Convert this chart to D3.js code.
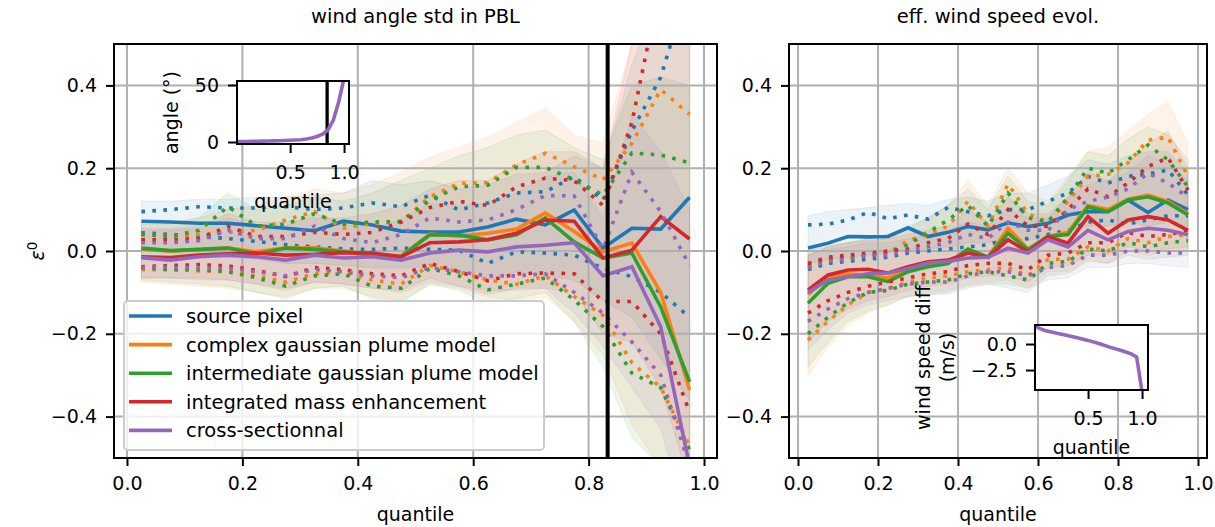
<!DOCTYPE html>
<html>
<head>
<meta charset="utf-8">
<script src="https://cdn.jsdelivr.net/npm/d3@7/dist/d3.min.js"></script>
<style>
  html, body { margin: 0; padding: 0; background: #fff; }
  svg { display: block; font-family: "DejaVu Sans", sans-serif; }
</style>
</head>
<body>
<svg id="fig" width="1215" height="527"></svg>
<script>
// ---- categories and styling keys ----
const methods = ["source pixel", "complex gaussian plume model", "intermediate gaussian plume model",
                 "integrated mass enhancement", "cross-sectionnal"];
const colors = ["#1f77b4", "#ff7f0e", "#2ca02c", "#d62728", "#9467bd"];
const quantileBins = [0.025, 0.075, 0.125, 0.175, 0.225, 0.275, 0.325, 0.375, 0.425, 0.475,
                      0.525, 0.575, 0.625, 0.675, 0.725, 0.775, 0.825, 0.875, 0.925, 0.975];
const xTicks = [0.0, 0.2, 0.4, 0.6, 0.8, 1.0];
const yTicks = [-0.4, -0.2, 0.0, 0.2, 0.4];
const angleThreshold = 0.833;

// ---- wind angle std in PBL: relative error per quantile bin (rows follow `methods`) ----
const angleMedian = [
  [0.072, 0.070, 0.067, 0.067, 0.061, 0.055, 0.049, 0.072, 0.063, 0.048, 0.046, 0.046, 0.058, 0.077, 0.063, 0.099, 0.007, 0.055, 0.053, 0.130],
  [0.005, 0.000, 0.003, 0.008, -0.002, 0.008, 0.008, 0.000, -0.008, -0.012, 0.041, 0.036, 0.043, 0.053, 0.092, 0.047, -0.002, 0.019, -0.100, -0.336],
  [0.007, 0.001, 0.004, 0.007, -0.007, 0.007, 0.004, -0.002, -0.010, -0.014, 0.039, 0.039, 0.027, 0.039, 0.080, 0.022, -0.017, -0.005, -0.135, -0.316],
  [-0.014, -0.016, -0.010, -0.007, -0.005, -0.010, -0.008, -0.004, -0.005, -0.014, 0.020, 0.022, 0.027, 0.043, 0.075, 0.072, -0.017, 0.002, 0.083, 0.029],
  [-0.016, -0.022, -0.014, -0.010, -0.014, -0.022, -0.010, -0.017, -0.014, -0.022, -0.005, 0.002, -0.002, 0.010, 0.014, 0.020, -0.060, -0.038, -0.183, -0.520]
];
const angleQ75 = [
  [0.095, 0.100, 0.107, 0.104, 0.104, 0.107, 0.100, 0.104, 0.116, 0.107, 0.135, 0.099, 0.116, 0.140, 0.143, 0.180, 0.123, 0.290, 0.420, 0.650],
  [0.040, 0.035, 0.040, 0.045, 0.050, 0.075, 0.095, 0.055, 0.067, 0.071, 0.131, 0.163, 0.165, 0.208, 0.236, 0.204, 0.172, 0.260, 0.390, 0.330],
  [0.040, 0.035, 0.050, 0.107, 0.060, 0.065, 0.090, 0.065, 0.070, 0.071, 0.123, 0.155, 0.159, 0.202, 0.202, 0.172, 0.135, 0.237, 0.232, 0.213],
  [0.027, 0.027, 0.030, 0.059, 0.035, 0.035, 0.045, 0.040, 0.045, 0.070, 0.105, 0.120, 0.110, 0.155, 0.176, 0.170, 0.110, 0.310, 0.650, 0.850],
  [0.020, 0.020, 0.025, 0.050, 0.030, 0.030, 0.060, 0.030, 0.020, 0.040, 0.080, 0.070, 0.075, 0.100, 0.134, 0.133, 0.005, 0.190, 0.095, -0.035]
];
const angleQ25 = [
  [0.044, 0.040, 0.035, 0.030, 0.023, 0.015, 0.010, 0.005, 0.004, 0.007, 0.004, 0.002, -0.030, -0.002, -0.005, -0.010, -0.042, -0.062, -0.100, -0.160],
  [-0.045, -0.045, -0.048, -0.050, -0.060, -0.075, -0.055, -0.050, -0.070, -0.080, -0.035, -0.050, -0.070, -0.080, -0.060, -0.110, -0.155, -0.270, -0.330, -0.470],
  [-0.040, -0.045, -0.045, -0.050, -0.065, -0.085, -0.060, -0.055, -0.085, -0.090, -0.042, -0.060, -0.094, -0.080, -0.065, -0.118, -0.183, -0.295, -0.330, -0.480],
  [-0.038, -0.035, -0.033, -0.036, -0.047, -0.062, -0.040, -0.045, -0.055, -0.060, -0.030, -0.050, -0.072, -0.055, -0.053, -0.055, -0.122, -0.122, -0.200, -0.390],
  [-0.040, -0.040, -0.042, -0.042, -0.050, -0.060, -0.045, -0.050, -0.060, -0.065, -0.040, -0.050, -0.060, -0.060, -0.055, -0.100, -0.150, -0.220, -0.300, -0.520]
];
const angleBandHi = [
  [0.120, 0.120, 0.125, 0.125, 0.130, 0.130, 0.135, 0.140, 0.170, 0.160, 0.170, 0.150, 0.160, 0.185, 0.190, 0.230, 0.200, 0.450, 0.620, 0.800],
  [0.070, 0.070, 0.080, 0.100, 0.110, 0.130, 0.150, 0.140, 0.160, 0.190, 0.227, 0.250, 0.275, 0.310, 0.345, 0.280, 0.260, 0.500, 0.650, 0.600],
  [0.065, 0.065, 0.080, 0.140, 0.100, 0.110, 0.130, 0.120, 0.140, 0.170, 0.200, 0.230, 0.250, 0.280, 0.292, 0.250, 0.220, 0.400, 0.420, 0.400],
  [0.055, 0.055, 0.060, 0.090, 0.070, 0.070, 0.080, 0.080, 0.090, 0.110, 0.150, 0.170, 0.170, 0.210, 0.240, 0.240, 0.200, 0.500, 0.850, 1.000],
  [0.050, 0.050, 0.055, 0.080, 0.060, 0.060, 0.090, 0.065, 0.055, 0.075, 0.115, 0.110, 0.115, 0.140, 0.180, 0.190, 0.080, 0.330, 0.240, 0.100]
];
const angleBandLo = [
  [0.000, -0.005, -0.010, -0.015, -0.020, -0.030, -0.030, -0.035, -0.040, -0.040, -0.040, -0.050, -0.070, -0.050, -0.060, -0.070, -0.120, -0.160, -0.260, -0.360],
  [-0.075, -0.080, -0.085, -0.090, -0.100, -0.110, -0.090, -0.090, -0.110, -0.120, -0.080, -0.090, -0.110, -0.120, -0.110, -0.170, -0.250, -0.420, -0.520, -0.650],
  [-0.070, -0.075, -0.080, -0.085, -0.100, -0.115, -0.090, -0.085, -0.115, -0.125, -0.080, -0.095, -0.125, -0.115, -0.100, -0.170, -0.280, -0.450, -0.520, -0.660],
  [-0.065, -0.065, -0.065, -0.070, -0.080, -0.095, -0.075, -0.080, -0.090, -0.095, -0.065, -0.085, -0.105, -0.090, -0.090, -0.100, -0.200, -0.220, -0.330, -0.560],
  [-0.065, -0.065, -0.070, -0.070, -0.080, -0.090, -0.075, -0.080, -0.090, -0.100, -0.075, -0.085, -0.095, -0.095, -0.090, -0.150, -0.230, -0.330, -0.430, -0.680]
];

// ---- effective wind speed evolution: relative error per quantile bin ----
const speedMedian = [
  [0.007, 0.019, 0.035, 0.034, 0.035, 0.056, 0.035, 0.045, 0.059, 0.051, 0.068, 0.059, 0.067, 0.087, 0.095, 0.095, 0.123, 0.093, 0.123, 0.100],
  [-0.105, -0.065, -0.055, -0.058, -0.065, -0.045, -0.035, -0.025, -0.005, -0.015, 0.055, 0.005, 0.035, 0.045, 0.110, 0.100, 0.125, 0.135, 0.120, 0.090],
  [-0.126, -0.078, -0.062, -0.062, -0.074, -0.050, -0.038, -0.030, 0.005, -0.015, 0.043, 0.003, 0.035, 0.040, 0.107, 0.095, 0.123, 0.131, 0.116, 0.087],
  [-0.094, -0.058, -0.046, -0.044, -0.053, -0.038, -0.026, -0.022, -0.005, -0.015, 0.027, -0.002, 0.035, 0.019, 0.083, 0.043, 0.075, 0.083, 0.075, 0.050],
  [-0.100, -0.070, -0.062, -0.055, -0.053, -0.042, -0.029, -0.025, -0.017, -0.015, 0.007, -0.005, 0.027, 0.010, 0.050, 0.027, 0.047, 0.055, 0.050, 0.039]
];
const speedQ75 = [
  [0.063, 0.065, 0.075, 0.093, 0.078, 0.087, 0.077, 0.105, 0.095, 0.085, 0.100, 0.100, 0.120, 0.140, 0.180, 0.164, 0.180, 0.186, 0.196, 0.135],
  [-0.040, -0.022, -0.020, -0.010, -0.005, 0.025, 0.040, 0.060, 0.120, 0.060, 0.162, 0.090, 0.070, 0.120, 0.180, 0.185, 0.213, 0.268, 0.275, 0.180],
  [-0.035, -0.020, -0.015, -0.010, -0.005, 0.015, 0.045, 0.075, 0.110, 0.060, 0.140, 0.080, 0.070, 0.130, 0.200, 0.188, 0.220, 0.256, 0.220, 0.155],
  [-0.030, -0.015, -0.010, -0.005, 0.000, 0.005, 0.020, 0.030, 0.065, 0.040, 0.100, 0.060, 0.060, 0.100, 0.150, 0.131, 0.164, 0.204, 0.225, 0.147],
  [-0.040, -0.025, -0.020, -0.010, -0.010, 0.000, 0.010, 0.020, 0.040, 0.030, 0.070, 0.050, 0.050, 0.100, 0.120, 0.130, 0.150, 0.188, 0.164, 0.130]
];
const speedQ25 = [
  [-0.045, -0.030, -0.025, -0.020, -0.015, -0.005, 0.000, 0.005, 0.010, 0.015, 0.030, 0.030, 0.040, 0.050, 0.070, 0.075, 0.065, 0.075, 0.085, 0.085],
  [-0.215, -0.170, -0.130, -0.100, -0.090, -0.075, -0.065, -0.060, -0.050, -0.045, -0.040, -0.060, -0.020, -0.020, 0.010, 0.000, 0.030, 0.020, 0.035, 0.040],
  [-0.200, -0.160, -0.125, -0.100, -0.095, -0.080, -0.075, -0.070, -0.055, -0.050, -0.060, -0.070, -0.030, -0.025, 0.005, 0.000, 0.020, 0.010, 0.020, 0.025],
  [-0.150, -0.120, -0.100, -0.085, -0.075, -0.065, -0.055, -0.050, -0.035, -0.030, -0.030, -0.045, -0.010, -0.005, 0.020, 0.020, 0.045, 0.035, 0.040, 0.050],
  [-0.170, -0.140, -0.115, -0.100, -0.090, -0.080, -0.075, -0.075, -0.060, -0.050, -0.050, -0.060, -0.040, -0.035, -0.010, -0.010, 0.000, 0.000, -0.005, -0.005]
];
const speedBandHi = [
  [0.085, 0.095, 0.100, 0.105, 0.110, 0.115, 0.110, 0.125, 0.130, 0.120, 0.140, 0.140, 0.160, 0.180, 0.220, 0.210, 0.230, 0.240, 0.240, 0.190],
  [-0.010, 0.010, 0.020, 0.030, 0.040, 0.060, 0.080, 0.110, 0.170, 0.110, 0.200, 0.140, 0.120, 0.180, 0.240, 0.250, 0.290, 0.330, 0.360, 0.260],
  [-0.010, 0.010, 0.020, 0.030, 0.040, 0.055, 0.080, 0.110, 0.150, 0.100, 0.180, 0.120, 0.110, 0.170, 0.240, 0.230, 0.270, 0.300, 0.280, 0.220],
  [0.000, 0.015, 0.020, 0.025, 0.030, 0.040, 0.050, 0.060, 0.100, 0.070, 0.130, 0.090, 0.090, 0.130, 0.190, 0.170, 0.210, 0.260, 0.290, 0.200],
  [-0.010, 0.005, 0.010, 0.020, 0.020, 0.030, 0.040, 0.050, 0.070, 0.060, 0.100, 0.080, 0.080, 0.130, 0.160, 0.170, 0.190, 0.230, 0.210, 0.170]
];
const speedBandLo = [
  [-0.030, -0.020, -0.015, -0.010, -0.005, 0.005, 0.005, 0.010, 0.020, 0.020, 0.030, 0.025, 0.035, 0.050, 0.060, 0.060, 0.070, 0.060, 0.070, 0.060],
  [-0.300, -0.230, -0.180, -0.150, -0.130, -0.110, -0.100, -0.095, -0.080, -0.075, -0.070, -0.090, -0.050, -0.050, -0.020, -0.030, 0.000, -0.010, 0.000, 0.000],
  [-0.280, -0.220, -0.170, -0.145, -0.130, -0.110, -0.105, -0.100, -0.085, -0.080, -0.090, -0.100, -0.060, -0.055, -0.025, -0.030, -0.010, -0.020, -0.015, -0.010],
  [-0.220, -0.170, -0.140, -0.120, -0.110, -0.095, -0.085, -0.080, -0.065, -0.060, -0.060, -0.075, -0.040, -0.035, -0.010, -0.010, 0.010, 0.000, 0.005, 0.010],
  [-0.240, -0.190, -0.150, -0.130, -0.120, -0.110, -0.105, -0.105, -0.090, -0.080, -0.080, -0.090, -0.070, -0.065, -0.040, -0.040, -0.030, -0.030, -0.035, -0.040]
];

// ---- inset curves ----
const insetAngleQuantile = [0.007, 0.05, 0.1, 0.15, 0.2, 0.25, 0.3, 0.35, 0.4, 0.45, 0.5, 0.55, 0.6, 0.65, 0.7, 0.75, 0.8, 0.85, 0.9, 0.95, 1.0];
const insetAngleValue = [0.3, 0.4, 0.5, 0.6, 0.7, 0.8, 0.9, 1.0, 1.1, 1.3, 1.5, 1.7, 2.0, 2.6, 3.6, 4.8, 6.8, 10.5, 19, 35, 56];
const insetAngleTicksX = [0.5, 1.0];
const insetAngleTicksY = [0, 50];
const insetSpeedQuantile = [0.009, 0.05, 0.1, 0.2, 0.3, 0.4, 0.5, 0.6, 0.7, 0.8, 0.9, 0.95, 1.0];
const insetSpeedValue = [1.75, 1.5, 1.3, 1.05, 0.85, 0.6, 0.35, 0.05, -0.3, -0.6, -0.95, -1.25, -4.6];
const insetSpeedTicksX = [0.5, 1.0];
const insetSpeedTicksY = [0.0, -2.5];

// ---- drawing ----
const fig = d3.select("#fig");
const FONT = 19;
const LW = 3.6;
const DOT = "3.6 7.4";

function styleAxis(sel) {
  sel.select(".domain").remove();
  sel.attr("font-family", null).attr("font-size", null);
  sel.selectAll(".tick line").attr("stroke", "#000").attr("stroke-width", 2);
  sel.selectAll(".tick text").attr("fill", "#000").attr("font-size", FONT)
     .attr("font-family", "DejaVu Sans, sans-serif");
}

function drawPanel(o) {
  const x = d3.scaleLinear([-0.0225, 1.0225], [o.left, o.right]);
  const y = d3.scaleLinear([-0.5, 0.5], [o.bottom, o.top]);
  const g = fig.append("g");
  g.append("clipPath").attr("id", o.id).append("rect")
    .attr("x", o.left).attr("y", o.top).attr("width", o.right - o.left).attr("height", o.bottom - o.top);
  const plot = g.append("g").attr("clip-path", `url(#${o.id})`);

  // spread bands
  methods.forEach((m, k) => {
    const area = d3.area()
      .x((_, i) => x(quantileBins[i]))
      .y0((_, i) => y(o.bandLo[k][i]))
      .y1((_, i) => y(o.bandHi[k][i]));
    plot.append("path").attr("d", area(quantileBins))
      .attr("fill", colors[k]).attr("fill-opacity", 0.09)
      .attr("stroke", colors[k]).attr("stroke-opacity", 0.09).attr("stroke-width", 1.2);
  });

  // grid
  plot.append("g").selectAll("line").data(xTicks).join("line")
    .attr("x1", d => x(d)).attr("x2", d => x(d)).attr("y1", o.top).attr("y2", o.bottom)
    .attr("stroke", "#b0b0b0").attr("stroke-width", 2);
  plot.append("g").selectAll("line").data(yTicks).join("line")
    .attr("y1", d => y(d)).attr("y2", d => y(d)).attr("x1", o.left).attr("x2", o.right)
    .attr("stroke", "#b0b0b0").attr("stroke-width", 2);

  // median (solid) and quartile (dotted) curves
  const line = d3.line().x((_, i) => x(quantileBins[i])).y(v => y(v));
  methods.forEach((m, k) => {
    plot.append("path").attr("d", line(o.median[k])).attr("fill", "none")
      .attr("stroke", colors[k]).attr("stroke-width", LW).attr("stroke-linejoin", "miter");
    [o.q75[k], o.q25[k]].forEach(arr => {
      plot.append("path").attr("d", line(arr)).attr("fill", "none")
        .attr("stroke", colors[k]).attr("stroke-width", LW).attr("stroke-dasharray", DOT);
    });
  });

  if (o.threshold !== undefined) {
    plot.append("line").attr("x1", x(o.threshold)).attr("x2", x(o.threshold))
      .attr("y1", o.top).attr("y2", o.bottom).attr("stroke", "#000").attr("stroke-width", 4);
  }

  // spines
  g.append("rect").attr("x", o.left).attr("y", o.top).attr("width", o.right - o.left)
    .attr("height", o.bottom - o.top).attr("fill", "none").attr("stroke", "#000").attr("stroke-width", 2);

  // axes
  const ax = g.append("g").attr("transform", `translate(0,${o.bottom})`)
    .call(d3.axisBottom(x).tickValues(xTicks).tickFormat(d3.format(".1f")).tickSize(8).tickPadding(11));
  styleAxis(ax);
  const ay = g.append("g").attr("transform", `translate(${o.left},0)`)
    .call(d3.axisLeft(y).tickValues(yTicks).tickFormat(d3.format(".1f")).tickSize(8).tickPadding(9));
  styleAxis(ay);

  g.append("text").attr("x", (o.left + o.right) / 2).attr("y", 23).attr("text-anchor", "middle")
    .attr("font-size", FONT + 0.5).text(o.title);
  g.append("text").attr("x", (o.left + o.right) / 2).attr("y", 521).attr("text-anchor", "middle")
    .attr("font-size", FONT).text("quantile");
  return { x, y, g };
}

const left = drawPanel({
  id: "clipAngle", left: 114, right: 717, top: 44, bottom: 458,
  title: "wind angle std in PBL",
  median: angleMedian, q75: angleQ75, q25: angleQ25, bandHi: angleBandHi, bandLo: angleBandLo,
  threshold: angleThreshold
});
const right = drawPanel({
  id: "clipSpeed", left: 789, right: 1207, top: 44, bottom: 458,
  title: "eff. wind speed evol.",
  median: speedMedian, q75: speedQ75, q25: speedQ25, bandHi: speedBandHi, bandLo: speedBandLo
});

// y label of the left panel: epsilon superscript zero
const yl = fig.append("text").attr("transform", "translate(44,251) rotate(-90)")
  .attr("text-anchor", "middle").attr("font-size", FONT);
yl.append("tspan").attr("font-style", "italic").text("ε");
yl.append("tspan").attr("font-size", 13.5).attr("dy", -7).text("0");

// legend
(function () {
  const lg = fig.append("g");
  const lx = 124, ly = 301, lw = 420, lh = 149;
  lg.append("rect").attr("x", lx).attr("y", ly).attr("width", lw).attr("height", lh)
    .attr("rx", 4).attr("fill", "#fff").attr("fill-opacity", 0.8)
    .attr("stroke", "#cccccc").attr("stroke-width", 2);
  methods.forEach((m, k) => {
    const cy = 316 + k * 28.6;
    lg.append("line").attr("x1", 129).attr("x2", 172).attr("y1", cy).attr("y2", cy)
      .attr("stroke", colors[k]).attr("stroke-width", LW);
    lg.append("text").attr("x", 186).attr("y", cy + 7).attr("font-size", FONT + 0.5).text(m);
  });
})();

// inset axes
function drawInset(o) {
  const g = fig.append("g");
  const x = d3.scaleLinear(o.xDomain, [o.left, o.right]);
  const y = d3.scaleLinear(o.yDomain, [o.bottom, o.top]);
  g.append("clipPath").attr("id", o.id).append("rect")
    .attr("x", o.left).attr("y", o.top).attr("width", o.right - o.left).attr("height", o.bottom - o.top);
  g.append("rect").attr("x", o.left).attr("y", o.top).attr("width", o.right - o.left)
    .attr("height", o.bottom - o.top).attr("fill", "#fff");
  const plot = g.append("g").attr("clip-path", `url(#${o.id})`);
  if (o.threshold !== undefined) {
    plot.append("line").attr("x1", x(o.threshold)).attr("x2", x(o.threshold))
      .attr("y1", o.top).attr("y2", o.bottom).attr("stroke", "#000").attr("stroke-width", 3.3);
  }
  const line = d3.line().x((_, i) => x(o.qs[i])).y(v => y(v));
  plot.append("path").attr("d", line(o.vals)).attr("fill", "none")
    .attr("stroke", colors[4]).attr("stroke-width", LW);
  g.append("rect").attr("x", o.left).attr("y", o.top).attr("width", o.right - o.left)
    .attr("height", o.bottom - o.top).attr("fill", "none").attr("stroke", "#000").attr("stroke-width", 2);
  const ax = g.append("g").attr("transform", `translate(0,${o.bottom})`)
    .call(d3.axisBottom(x).tickValues(o.xTicks).tickFormat(d3.format(".1f")).tickSize(9).tickPadding(13));
  styleAxis(ax);
  const ay = g.append("g").attr("transform", `translate(${o.left},0)`)
    .call(d3.axisLeft(y).tickValues(o.yTicks).tickFormat(o.yFormat).tickSize(9).tickPadding(9));
  styleAxis(ay);
  g.append("text").attr("x", (o.left + o.right) / 2).attr("y", o.bottom + 64)
    .attr("text-anchor", "middle").attr("font-size", FONT).text("quantile");
  const cy = (o.top + o.bottom) / 2;
  o.yLabel.forEach((t, j) => {
    g.append("text").attr("transform", `translate(${o.yLabelX[j]},${cy}) rotate(-90)`)
      .attr("text-anchor", "middle").attr("font-size", FONT).text(t);
  });
}

drawInset({
  id: "clipInsetAngle", left: 237, right: 349, top: 81, bottom: 144,
  xDomain: [0.007, 1.046], yDomain: [-1.75, 53.5],
  qs: insetAngleQuantile, vals: insetAngleValue, threshold: 0.843,
  xTicks: insetAngleTicksX, yTicks: insetAngleTicksY, yFormat: d3.format("d"),
  yLabel: ["angle (°)"], yLabelX: [178]
});
drawInset({
  id: "clipInsetSpeed", left: 1035, right: 1148, top: 325, bottom: 390,
  xDomain: [0.009, 1.055], yDomain: [-4.42, 1.83],
  qs: insetSpeedQuantile, vals: insetSpeedValue,
  xTicks: insetSpeedTicksX, yTicks: insetSpeedTicksY, yFormat: d3.format(".1f"),
  yLabel: ["wind speed diff", "(m/s)"], yLabelX: [930, 954]
});
</script>
</body>
</html>
